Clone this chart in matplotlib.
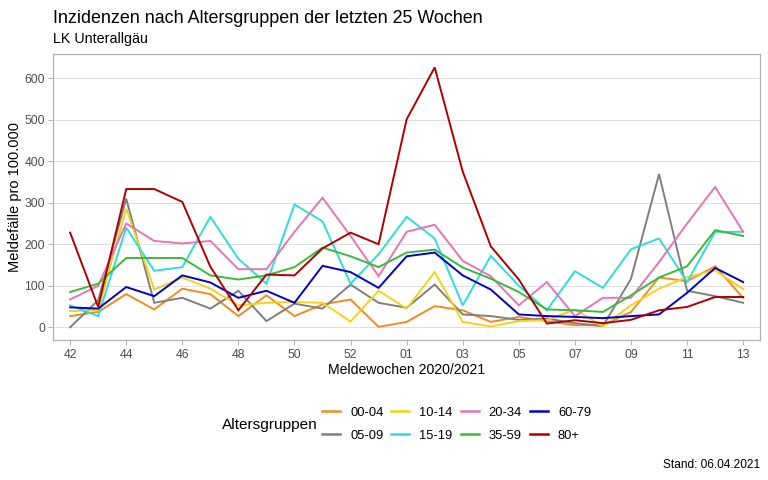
import matplotlib
matplotlib.use("Agg")
import matplotlib.pyplot as plt
from matplotlib.lines import Line2D

plt.rcParams['font.family'] = ['Liberation Sans', 'DejaVu Sans']

weeks = ["42", "43", "44", "45", "46", "47", "48", "49", "50", "51", "52", "53",
         "01", "02", "03", "04", "05", "06", "07", "08", "09", "10", "11", "12", "13"]
groups = ["00-04", "05-09", "10-14", "15-19", "20-34", "35-59", "60-79", "80+"]

a0004 = [27, 37, 80, 43, 93, 80, 27, 77, 27, 55, 67, 1, 13, 51, 41, 13, 25, 15, 5, 5, 37, 120, 111, 147, 71]
a0509 = [0, 65, 310, 59, 71, 45, 88, 15, 57, 45, 103, 59, 47, 103, 31, 27, 18, 21, 10, 3, 117, 369, 88, 75, 59]
a1014 = [39, 41, 286, 91, 120, 93, 53, 59, 61, 59, 14, 88, 45, 133, 13, 2, 15, 17, 43, 2, 53, 93, 121, 137, 92]
a1519 = [53, 27, 240, 136, 145, 266, 165, 105, 296, 255, 105, 176, 266, 214, 53, 172, 100, 41, 135, 95, 188, 214, 109, 230, 230]
a2034 = [67, 100, 250, 208, 202, 208, 140, 140, 230, 312, 220, 123, 230, 247, 160, 123, 53, 109, 27, 71, 71, 157, 250, 338, 230]
a3559 = [85, 105, 167, 167, 167, 125, 115, 125, 145, 192, 171, 145, 180, 187, 144, 117, 85, 43, 41, 37, 77, 120, 147, 234, 220]
a6079 = [48, 45, 97, 75, 125, 108, 71, 88, 59, 148, 133, 95, 171, 180, 125, 91, 31, 27, 25, 22, 27, 31, 83, 143, 109]
a80 = [228, 49, 333, 333, 302, 146, 41, 127, 125, 190, 228, 200, 501, 626, 375, 195, 115, 9, 17, 10, 18, 41, 49, 73, 73]

series = [a0004, a0509, a1014, a1519, a2034, a3559, a6079, a80]
colors = ["#F28C1E", "#7F7F7F", "#F5D216", "#2EDCDC", "#E673B8", "#3CB93C", "#0000CD", "#B00000"]

W, H = 768, 480
fig = plt.figure(figsize=(W / 100, H / 100), dpi=100)
left, right, top, bottom = 53.3, 760, 54.4, 340.3
ax = fig.add_axes([left / W, 1 - bottom / H, (right - left) / W, (bottom - top) / H])

x = list(range(len(weeks)))
for vals, c in zip(series, colors):
    ax.plot(x, vals, color=c, lw=1.4, solid_joinstyle='miter', zorder=3)

ax.set_xlim(-0.6, len(weeks) - 1 + 0.6)
ymax = max(max(s) for s in series)
ymin = min(min(s) for s in series)
rng = ymax - ymin
ax.set_ylim(ymin - 0.05 * rng, ymax + 0.05 * rng)

ax.set_xticks(x[::2])
ax.set_xticklabels(weeks[::2])
ax.set_yticks([0, 100, 200, 300, 400, 500, 600])
ax.tick_params(axis='both', colors='#B3B3B3', length=3.5, width=0.7, labelsize=8.8,
               labelcolor='#4D4D4D', pad=2.5)
ax.grid(axis='y', color='#DEDEDE', lw=0.7, zorder=0)
ax.grid(axis='x', visible=False)
for sp in ax.spines.values():
    sp.set_color('#B3B3B3')
    sp.set_linewidth(0.9)

fig.text(53 / W, 1 - 22.7 / H, "Inzidenzen nach Altersgruppen der letzten 25 Wochen",
         fontsize=12.9, va='baseline', ha='left', color='black')
fig.text(53 / W, 1 - 43.5 / H, "LK Unterallgäu", fontsize=10.3, va='baseline', ha='left', color='black')
fig.text(406.5 / W, 1 - 370 / H, "Meldewochen 2020/2021", fontsize=10.1, ha='center', va='center')
fig.text(15 / W, 1 - 197 / H, "Meldefälle pro 100.000", fontsize=10.5, ha='center', va='center',
         rotation=90)
fig.text(222 / W, 1 - 425 / H, "Altersgruppen", fontsize=11.1, ha='left', va='center')
fig.text(760 / W, 1 - 465 / H, "Stand: 06.04.2021", fontsize=8.6, ha='right', va='center')

handles = [Line2D([0], [0], color=c, lw=1.8) for c in colors]
fig.legend(handles, groups, ncol=4, loc='center left', bbox_to_anchor=(322 / W, 1 - 424 / H),
           frameon=False, fontsize=9.3, handlelength=1.4, handletextpad=0.78,
           columnspacing=0.6, labelspacing=0.85, borderpad=0, borderaxespad=0)

fig.savefig("out.png", dpi=100)
